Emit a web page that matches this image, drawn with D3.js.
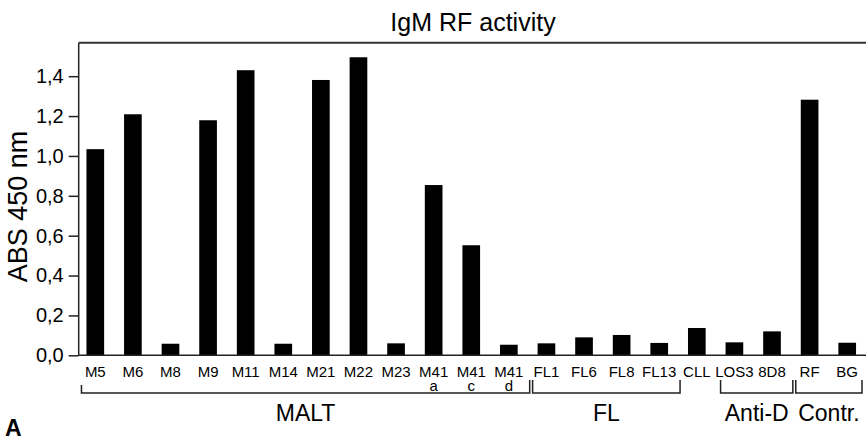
<!DOCTYPE html>
<html>
<head>
<meta charset="utf-8">
<script src="https://cdn.jsdelivr.net/npm/d3@7"></script>
<style>
  body { margin: 0; background: #fff; }
  text { font-family: Helvetica, Arial, "Liberation Sans", sans-serif; fill: #000; }
</style>
</head>
<body>
<div id="chart"></div>
<script>
// Data
const categories = ["M5", "M6", "M8", "M9", "M11", "M14", "M21", "M22", "M23", "M41a", "M41c", "M41d",
    "FL1", "FL6", "FL8", "FL13", "CLL", "LOS3", "8D8", "RF", "BG"];
const tickMain = ["M5", "M6", "M8", "M9", "M11", "M14", "M21", "M22", "M23", "M41", "M41", "M41",
    "FL1", "FL6", "FL8", "FL13", "CLL", "LOS3", "8D8", "RF", "BG"];
const tickSub = ["", "", "", "", "", "", "", "", "", "a", "c", "d",
    "", "", "", "", "", "", "", "", ""];
const absValues = [1.034, 1.209, 0.058, 1.179, 1.430, 0.058, 1.381, 1.495, 0.060, 0.854, 0.552, 0.053,
    0.060, 0.090, 0.102, 0.062, 0.137, 0.065, 0.120, 1.282, 0.063];
const groupNames = ["MALT", "FL", "Anti-D", "Contr."];
const groupFrom = ["M5", "FL1", "LOS3", "RF"];
const groupTo = ["M41d", "FL13", "8D8", "BG"];
const yTicks = [0, 0.2, 0.4, 0.6, 0.8, 1.0, 1.2, 1.4];

const width = 866, height = 438;
const plotLeft = 78.7, plotTop = 42.7, plotBottom = 355.3;

const svg = d3.select("#chart").append("svg")
    .attr("width", width)
    .attr("height", height);

const x = d3.scaleBand()
    .domain(categories)
    .range([76.5, width])
    .paddingInner(0.53)
    .paddingOuter(0.265);

const y = d3.scaleLinear()
    .domain([0, 1.568])
    .range([plotBottom, plotTop]);

// Bars
svg.selectAll(".bar")
    .data(categories)
    .enter()
    .append("rect")
    .attr("class", "bar")
    .attr("x", d => x(d))
    .attr("y", (d, i) => y(absValues[i]))
    .attr("width", x.bandwidth())
    .attr("height", (d, i) => y(0) - y(absValues[i]))
    .attr("fill", "#000");

// Y axis
const yAxis = svg.append("g")
    .attr("transform", `translate(${plotLeft},0)`)
    .call(d3.axisLeft(y)
        .tickValues(yTicks)
        .tickSize(10)
        .tickPadding(5)
        .tickFormat(d => d3.format(".1f")(d).replace(".", ",")));
yAxis.select(".domain").remove();
yAxis.selectAll(".tick line").attr("stroke", "#222").attr("stroke-width", 1.5);
yAxis.selectAll(".tick text")
    .style("font-size", "20px")
    .style("font-family", "Helvetica, Arial, 'Liberation Sans', sans-serif");

// Frame: left, top and bottom lines
svg.append("line")
    .attr("x1", plotLeft).attr("x2", plotLeft)
    .attr("y1", plotTop).attr("y2", plotBottom)
    .attr("stroke", "#222").attr("stroke-width", 1.5);
svg.append("line")
    .attr("x1", plotLeft).attr("x2", width)
    .attr("y1", plotTop).attr("y2", plotTop)
    .attr("stroke", "#333").attr("stroke-width", 2);
svg.append("line")
    .attr("x1", plotLeft).attr("x2", width)
    .attr("y1", plotBottom).attr("y2", plotBottom)
    .attr("stroke", "#222").attr("stroke-width", 1.5);

// X tick labels
svg.selectAll(".xlab")
    .data(categories)
    .enter()
    .append("text")
    .attr("class", "xlab")
    .attr("x", d => x(d) + x.bandwidth() / 2)
    .attr("y", 377)
    .attr("text-anchor", "middle")
    .style("font-size", "15px")
    .text((d, i) => tickMain[i]);

svg.selectAll(".xsub")
    .data(categories.filter((d, i) => tickSub[i]))
    .enter()
    .append("text")
    .attr("class", "xsub")
    .attr("x", d => x(d) + x.bandwidth() / 2)
    .attr("y", 391)
    .attr("text-anchor", "middle")
    .style("font-size", "15px")
    .text(d => tickSub[categories.indexOf(d)]);

// Group brackets
const bracketTop = 380, bracketY = 393;
groupNames.forEach((name, i) => {
    const x0 = x(groupFrom[i]) - 5;
    const x1 = Math.min(x(groupTo[i]) + x.bandwidth() + 12, width - 4);
    const top0 = i === 0 ? 385 : bracketTop;
    svg.append("path")
        .attr("d", `M${x0},${top0}V${bracketY}H${x1}V${bracketTop}`)
        .attr("fill", "none")
        .attr("stroke", "#222")
        .attr("stroke-width", 1.5);
    svg.append("text")
        .attr("x", (x0 + x1) / 2)
        .attr("y", 421)
        .attr("text-anchor", "middle")
        .style("font-size", "23px")
        .text(name);
});

// Title
svg.append("text")
    .attr("x", 473)
    .attr("y", 31)
    .attr("text-anchor", "middle")
    .style("font-size", "25px")
    .text("IgM RF activity");

// Y axis label
svg.append("text")
    .attr("transform", `translate(27, 206.5) rotate(-90)`)
    .attr("text-anchor", "middle")
    .style("font-size", "27px")
    .text("ABS 450 nm");

// Panel letter
svg.append("text")
    .attr("x", 5)
    .attr("y", 436)
    .style("font-size", "23px")
    .style("font-weight", "bold")
    .text("A");
</script>
</body>
</html>
